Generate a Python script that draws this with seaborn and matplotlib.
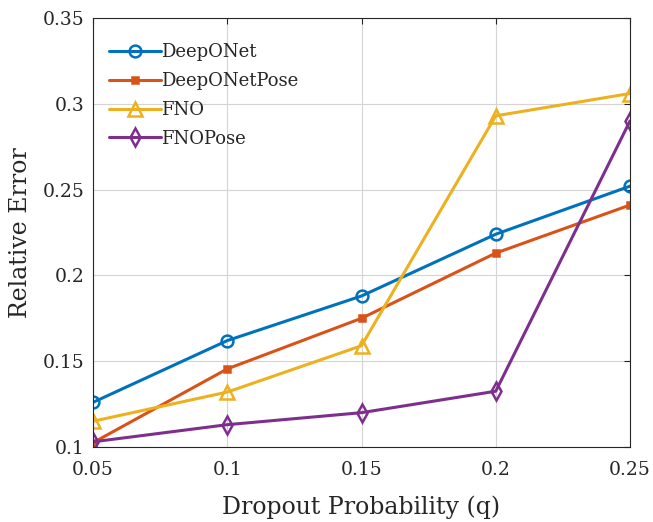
import matplotlib
matplotlib.use("Agg")
import matplotlib.pyplot as plt
import seaborn as sns
import pandas as pd

q = [0.05, 0.10, 0.15, 0.20, 0.25]
deeponet = [0.126, 0.162, 0.188, 0.224, 0.252]
deeponet_pose = [0.1025, 0.1455, 0.175, 0.213, 0.241]
fno = [0.115, 0.132, 0.159, 0.293, 0.306]
fno_pose = [0.103, 0.113, 0.120, 0.1325, 0.290]

series_names = ["DeepONet", "DeepONetPose", "FNO", "FNOPose"]
series_vals = [deeponet, deeponet_pose, fno, fno_pose]
colors = ["#0072BD", "#D95319", "#EDB120", "#7E2F8E"]
markers = ["o", "s", "^", "d"]
msizes = [8.5, 5, 10, 9]
mfcs = ["none", "#D95319", "none", "none"]

xticks = [0.05, 0.1, 0.15, 0.2, 0.25]
xticklabels = ["0.05", "0.1", "0.15", "0.2", "0.25"]
yticks = [0.1, 0.15, 0.2, 0.25, 0.3, 0.35]
yticklabels = ["0.1", "0.15", "0.2", "0.25", "0.3", "0.35"]

sns.set_style("white")
plt.rcParams["font.family"] = ["DejaVu Serif"]

fig = plt.figure(figsize=(6.53, 5.22), dpi=100)
ax = fig.add_axes([0.1424, 0.1437, 0.8224, 0.8218])

for name, vals, c, m, ms, mfc in zip(series_names, series_vals, colors, markers, msizes, mfcs):
    df = pd.DataFrame({"q": q, "err": vals})
    sns.lineplot(data=df, x="q", y="err", ax=ax, color=c, marker=m, markersize=ms,
                 markerfacecolor=mfc, markeredgecolor=c, markeredgewidth=1.8,
                 linewidth=2.2, label=name)

ax.set_xlim(0.05, 0.25)
ax.set_ylim(0.1, 0.35)
ax.set_xticks(xticks)
ax.set_xticklabels(xticklabels)
ax.set_yticks(yticks)
ax.set_yticklabels(yticklabels)
ax.grid(True, color="#d4d4d4", linewidth=0.8)
ax.set_axisbelow(True)
for s in ax.spines.values():
    s.set_color("#262626")
    s.set_linewidth(0.8)
    s.set_visible(True)
ax.tick_params(direction="in", length=4, width=0.8, top=True, right=True,
               labelsize=13.5, colors="#262626")
ax.tick_params(axis="x", pad=10)
ax.tick_params(axis="y", pad=6)
ax.set_xlabel("Dropout Probability (q)", fontsize=17, color="#262626", labelpad=12)
ax.set_ylabel("Relative Error", fontsize=17, color="#262626", labelpad=8)

leg = ax.legend(loc="upper left", bbox_to_anchor=(-0.017, 1.0), frameon=False,
                fontsize=13, handlelength=2.9, handletextpad=0.0, labelspacing=0.6,
                borderaxespad=1.0, borderpad=0.4)
for t in leg.get_texts():
    t.set_color("#262626")

fig.savefig("out.png", dpi=100)
